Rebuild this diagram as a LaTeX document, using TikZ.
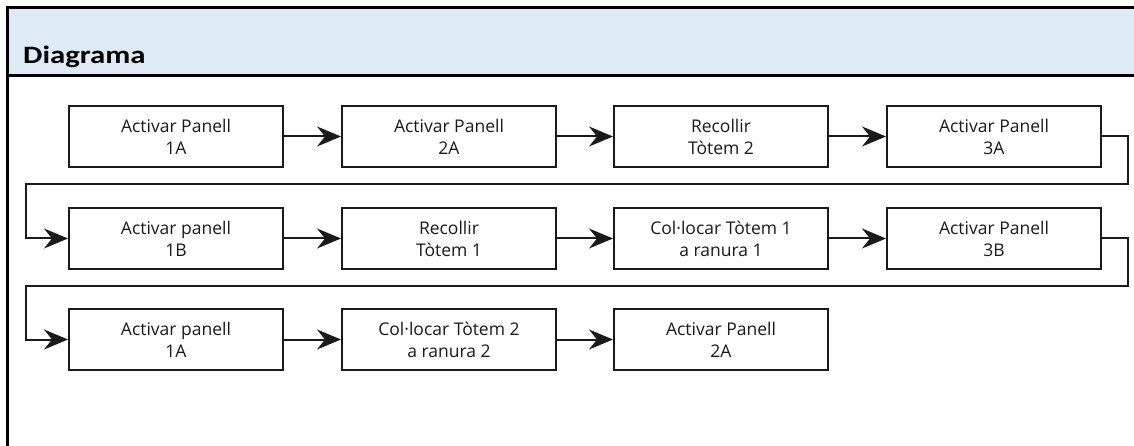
\documentclass[tikz,border=0pt]{standalone}
\usepackage{fontspec}
\setmainfont{Open Sans}
\newfontfamily\headfont{Carlito}
\usetikzlibrary{arrows.meta}
\definecolor{headfill}{HTML}{DEEAF6}
\definecolor{ink}{HTML}{1A1A1A}

\begin{document}
\begin{tikzpicture}[x=1pt,y=-1pt,
  stepbox/.style={draw=ink, line width=2pt, minimum width=214pt, minimum height=61pt,
    inner sep=0pt, align=center, anchor=north west, text=ink,
    font=\fontsize{17.5}{22}\selectfont},
  flow/.style={draw=ink, line width=2pt, line join=miter,
    -{Stealth[length=24pt,width=20pt,inset=8pt]}},
  frame/.style={line width=3pt, draw=black},
]
\useasboundingbox (0,0) rectangle (1134,446);

% header band and frame
\fill[headfill] (7,8) rectangle (1134,75);
\draw[frame] (7,446) -- (7,7.5) -- (1134,7.5);
\draw[frame] (5.5,75.5) -- (1134,75.5);
\node[anchor=base west, inner sep=0pt, font=\headfont\bfseries\fontsize{25}{30}\selectfont] (title) at (23,64) {\scalebox{1.23}[1]{Diagrama}};

% row 1
\node[stepbox] (a1) at (68,105)  {Activar Panell\\1A};
\node[stepbox] (a2) at (341,105) {Activar Panell\\2A};
\node[stepbox] (a3) at (613,105) {Recollir\\Tòtem 2};
\node[stepbox] (a4) at (886,105) {Activar Panell\\3A};
% row 2
\node[stepbox] (b1) at (68,207)  {Activar panell\\1B};
\node[stepbox] (b2) at (341,207) {Recollir\\Tòtem 1};
\node[stepbox] (b3) at (613,207) {Col·locar Tòtem 1\\a ranura 1};
\node[stepbox] (b4) at (886,207) {Activar Panell\\3B};
% row 3
\node[stepbox] (c1) at (68,308)  {Activar panell\\1A};
\node[stepbox] (c2) at (341,308) {Col·locar Tòtem 2\\a ranura 2};
\node[stepbox] (c3) at (613,308) {Activar Panell\\2A};

% return paths between rows
\coordinate (r1) at (1128,184);
\coordinate (l1) at (26,184);
\coordinate (r2) at (1128,286);
\coordinate (l2) at (26,286);

\draw[flow] (a1) -- (a2);
\draw[flow] (a2) -- (a3);
\draw[flow] (a3) -- (a4);
\draw[flow] (a4.east) -| (r1) -- (l1) |- (b1.west);
\draw[flow] (b1) -- (b2);
\draw[flow] (b2) -- (b3);
\draw[flow] (b3) -- (b4);
\draw[flow] (b4.east) -| (r2) -- (l2) |- (c1.west);
\draw[flow] (c1) -- (c2);
\draw[flow] (c2) -- (c3);
\end{tikzpicture}
\end{document}
